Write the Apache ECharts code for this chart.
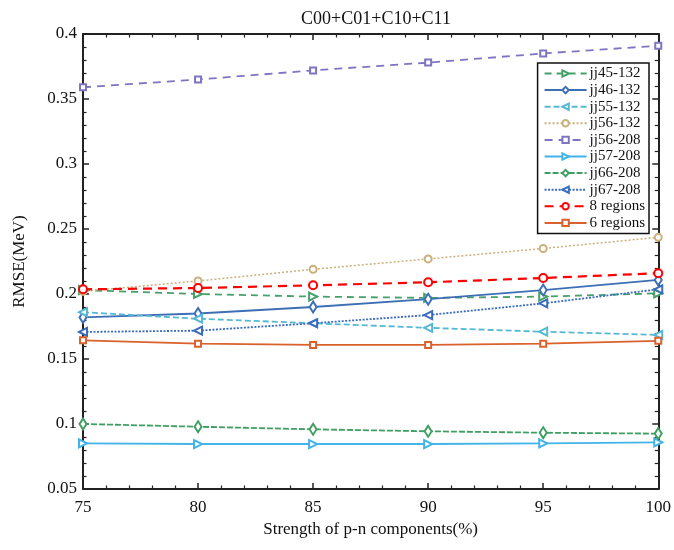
<!DOCTYPE html>
<html><head><meta charset="utf-8">
<script src="https://cdn.jsdelivr.net/npm/echarts@6/dist/echarts.min.js"></script>
<style>html,body{margin:0;padding:0;background:#fff}#c{width:674px;height:550px}</style>
</head><body><div id="c"></div>
<script>
const xs = [75, 80, 85, 90, 95, 100];
const jj45_132 = [0.203, 0.200, 0.198, 0.197, 0.198, 0.2005];
const jj46_132 = [0.182, 0.185, 0.190, 0.196, 0.203, 0.2108];
const jj55_132 = [0.186, 0.181, 0.1775, 0.174, 0.171, 0.1685];
const jj56_132 = [0.202, 0.210, 0.219, 0.227, 0.235, 0.2436];
const jj56_208 = [0.359, 0.365, 0.372, 0.378, 0.385, 0.391];
const jj57_208 = [0.0851, 0.0846, 0.0846, 0.0846, 0.0851, 0.0859];
const jj66_208 = [0.100, 0.0979, 0.0959, 0.0944, 0.0933, 0.0926];
const jj67_208 = [0.1708, 0.1718, 0.1775, 0.1838, 0.1928, 0.2036];
const regions8 = [0.2036, 0.2046, 0.2067, 0.209, 0.2123, 0.216];
const regions6 = [0.1644, 0.1618, 0.1608, 0.1608, 0.1618, 0.164];
const names = ['jj45-132','jj46-132','jj55-132','jj56-132','jj56-208','jj57-208','jj66-208','jj67-208','8 regions','6 regions'];
const values = [jj45_132, jj46_132, jj55_132, jj56_132, jj56_208, jj57_208, jj66_208, jj67_208, regions8, regions6];
const titleText = 'C00+C01+C10+C11';
const xName = 'Strength of p-n components(%)';
const yName = 'RMSE(MeV)';

const styles = [
  {color:'#46a06a', type:[7,5], symbol:'emptyTriangle', rot:-90, size:8, w:1.8},
  {color:'#3d6fb5', type:'solid', symbol:'emptyDiamond', rot:0, size:[7,11], w:1.8},
  {color:'#55b8d4', type:[6,3], symbol:'emptyTriangle', rot:90, size:8, w:1.8},
  {color:'#c9b07c', type:[2,2], symbol:'emptyCircle', rot:0, size:7, w:1.5},
  {color:'#7d74c2', type:[8,6], symbol:'emptyRect', rot:0, size:6, w:1.8},
  {color:'#42b4e8', type:'solid', symbol:'emptyTriangle', rot:-90, size:8, w:1.8},
  {color:'#3e9f62', type:[6,2], symbol:'emptyDiamond', rot:0, size:[7,11], w:1.8},
  {color:'#3a6cbd', type:[2,1.5], symbol:'emptyTriangle', rot:90, size:8, w:1.8},
  {color:'#ff0000', type:[9,6], symbol:'emptyCircle', rot:0, size:8, w:2.2},
  {color:'#d9612c', type:'solid', symbol:'emptyRect', rot:0, size:6, w:1.8}
];

const FONT = 'Liberation Serif';
const series = names.map((n, i) => ({
  name: n, type: 'line', xAxisIndex: 0, yAxisIndex: 0,
  data: xs.map((x, j) => [x, values[i][j]]),
  symbol: styles[i].symbol, symbolSize: styles[i].size, symbolRotate: styles[i].rot,
  lineStyle: {color: styles[i].color, width: styles[i].w, type: styles[i].type},
  itemStyle: {color: styles[i].color, borderWidth: 1.8},
  showAllSymbol: true, animation: false, z: 3
}));

const axisCommon = {
  axisLine: {show: true, onZero: false, lineStyle: {color: '#222', width: 2}},
  axisTick: {show: true, inside: true, length: 6, lineStyle: {color: '#222', width: 1.5}},
  minorTick: {show: true, splitNumber: 5, length: 3.5, lineStyle: {color: '#222', width: 1.2}},
  splitLine: {show: false}
};

const chart = echarts.init(document.getElementById('c'), null, {renderer: 'canvas'});
chart.setOption({
  backgroundColor: '#fff',
  animation: false,
  title: {text: titleText, left: 371, top: 5, textAlign: 'center',
    textStyle: {fontFamily: FONT, fontSize: 18, fontWeight: 'normal', color: '#111'}},
  grid: {left: 83, right: 15, top: 34, bottom: 61, containLabel: false},
  legend: {
    orient: 'vertical', right: 25, top: 63, data: names,
    backgroundColor: '#fff', borderColor: '#111', borderWidth: 1.5,
    padding: [3, 4, 3, 6], itemGap: 1.6, itemWidth: 42, itemHeight: 8,
    textStyle: {fontFamily: FONT, fontSize: 15, lineHeight: 15, color: '#111', padding: [0,0,0,-2]}
  },
  xAxis: [
    Object.assign({type: 'value', min: 75, max: 100, interval: 5, position: 'bottom',
      name: xName, nameLocation: 'middle', nameGap: 28,
      nameTextStyle: {fontFamily: FONT, fontSize: 17, color: '#111'},
      axisLabel: {fontFamily: FONT, fontSize: 17, color: '#111', margin: 10}}, axisCommon),
    Object.assign({type: 'value', min: 75, max: 100, interval: 5, position: 'top',
      axisLabel: {show: false}}, axisCommon)
  ],
  yAxis: [
    Object.assign({type: 'value', min: 0.05, max: 0.4, interval: 0.05, position: 'left',
      name: yName, nameLocation: 'middle', nameGap: 55,
      nameTextStyle: {fontFamily: FONT, fontSize: 17, color: '#111'},
      axisLabel: {fontFamily: FONT, fontSize: 17, color: '#111', margin: 6,
        formatter: v => String(+v.toFixed(2))}}, axisCommon),
    Object.assign({type: 'value', min: 0.05, max: 0.4, interval: 0.05, position: 'right',
      axisLabel: {show: false}}, axisCommon)
  ],
  series: series
});
</script></body></html>
